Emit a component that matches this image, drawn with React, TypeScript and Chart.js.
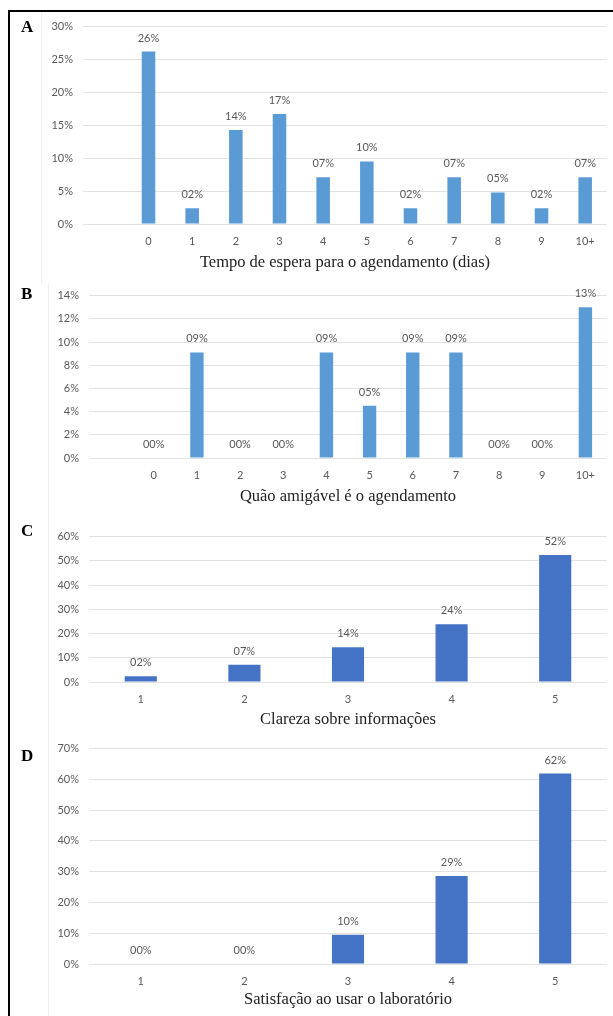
import React, { useEffect, useRef } from "react";
import { Chart, registerables } from "chart.js";

Chart.register(...registerables);

// ---- Data ----
const waitCategories = ["", "0", "1", "2", "3", "4", "5", "6", "7", "8", "9", "10+"];
const waitValues = [null, 26.2, 2.4, 14.3, 16.7, 7.1, 9.5, 2.4, 7.1, 4.8, 2.4, 7.1];

const friendlyCategories = ["", "0", "1", "2", "3", "4", "5", "6", "7", "8", "9", "10+"];
const friendlyValues = [null, 0, 9.1, 0, 0, 9.1, 4.5, 9.1, 9.1, 0, 0, 13.0];

const clarityCategories = ["1", "2", "3", "4", "5"];
const clarityValues = [2.4, 7.1, 14.3, 23.8, 52.4];

const satisfactionCategories = ["1", "2", "3", "4", "5"];
const satisfactionValues = [0, 0, 9.5, 28.6, 61.9];

const waitAxis = { max: 30, step: 5 };
const friendlyAxis = { max: 14, step: 2 };
const clarityAxis = { max: 60, step: 10 };
const satisfactionAxis = { max: 70, step: 10 };

const titles = [
  "Tempo de espera para o agendamento (dias)",
  "Quão amigável é o agendamento",
  "Clareza sobre informações",
  "Satisfação ao usar o laboratório",
];
const letters = ["A", "B", "C", "D"];

// ---- Styling / layout ----
const TICK_COLOR = "#595959";
const GRID_COLOR = "#e2e2e2";
const TICK_FONT = { family: "Lato", size: 11 };

type Box = { L: number; T: number; R: number; B: number; titleY: number; letterTop: number };

const panels = [
  { cats: waitCategories, vals: waitValues, axis: waitAxis, color: "#5B9BD5", box: { L: 83, T: 22, R: 607, B: 224, titleY: 263, letterTop: 18 } },
  { cats: friendlyCategories, vals: friendlyValues, axis: friendlyAxis, color: "#5B9BD5", box: { L: 89, T: 291, R: 607, B: 458, titleY: 497, letterTop: 285 } },
  { cats: clarityCategories, vals: clarityValues, axis: clarityAxis, color: "#4472C4", box: { L: 89, T: 532, R: 607, B: 682, titleY: 720, letterTop: 522 } },
  { cats: satisfactionCategories, vals: satisfactionValues, axis: satisfactionAxis, color: "#4472C4", box: { L: 89, T: 744, R: 607, B: 964, titleY: 1000, letterTop: 747 } },
];

const valueLabelPlugin = {
  id: "valueLabels",
  afterDatasetsDraw(chart: any) {
    const ctx = chart.ctx;
    const meta = chart.getDatasetMeta(0);
    const data = chart.data.datasets[0].data;
    ctx.save();
    ctx.font = "11px Lato";
    ctx.fillStyle = TICK_COLOR;
    ctx.textAlign = "center";
    ctx.textBaseline = "alphabetic";
    meta.data.forEach((el: any, i: number) => {
      const v = data[i];
      if (v === null || v === undefined) return;
      const label = String(Math.round(v)).padStart(2, "0") + "%";
      ctx.fillText(label, el.x, el.y - 10);
    });
    ctx.restore();
  },
};

function Panel({ cats, vals, axis, color, box, title }: any) {
  const ref = useRef<HTMLCanvasElement | null>(null);
  const b: Box = box;
  const canvasLeft = 10;
  const canvasTop = b.T - 12;
  const width = 613 - canvasLeft;
  const height = Math.round(b.titleY + 10 - canvasTop);

  useEffect(() => {
    if (!ref.current) return;
    const chart = new Chart(ref.current, {
      type: "bar",
      data: {
        labels: cats,
        datasets: [
          {
            data: vals,
            backgroundColor: color,
            borderWidth: 0,
            barPercentage: 0.31,
            categoryPercentage: 1,
          },
        ],
      },
      options: {
        responsive: false,
        animation: false,
        layout: { padding: { top: 12, right: 613 - b.R, left: 0, bottom: 0 } },
        plugins: { legend: { display: false }, tooltip: { enabled: false } },
        scales: {
          x: {
            grid: { display: false },
            border: { display: false },
            ticks: { padding: 3, color: TICK_COLOR, font: TICK_FONT, maxRotation: 0, autoSkip: false },
            title: {
              display: true,
              text: title,
              color: "#222222",
              font: { family: "Liberation Serif", size: 16.5 },
              padding: 0,
            },
            afterFit: (s: any) => {
              s.height = canvasTop + height - b.B;
            },
          },
          y: {
            min: 0,
            max: axis.max,
            ticks: {
              stepSize: axis.step,
              padding: 10,
              color: TICK_COLOR,
              font: TICK_FONT,
              callback: (v: any) => v + "%",
            },
            grid: { color: GRID_COLOR, drawTicks: false, lineWidth: 1 },
            border: { display: false },
            afterFit: (s: any) => {
              s.width = b.L - canvasLeft;
            },
          },
        },
      },
      plugins: [valueLabelPlugin],
    });
    return () => chart.destroy();
  }, []);

  return (
    <canvas
      ref={ref}
      width={width}
      height={height}
      style={{ position: "absolute", left: canvasLeft, top: canvasTop, width, height }}
    />
  );
}

export default function App() {
  return (
    <div style={{ position: "absolute", left: 0, top: 0, width: 613, height: 1016, background: "#fff", overflow: "hidden" }}>
      {/* figure frame */}
      <div style={{ position: "absolute", left: 8, top: 10, width: 620, height: 1020, borderLeft: "2px solid #000", borderTop: "2px solid #000" }} />
      {/* faint image edges */}
      <div style={{ position: "absolute", left: 41, top: 12, width: 1, height: 272, background: "#f0f0f0" }} />
      <div style={{ position: "absolute", left: 48, top: 284, width: 1, height: 732, background: "#f0f0f0" }} />
      {panels.map((p, i) => (
        <React.Fragment key={i}>
          <Panel {...p} title={titles[i]} />
          <div
            style={{
              position: "absolute",
              left: 21,
              top: p.box.letterTop,
              fontFamily: "'Liberation Serif', serif",
              fontWeight: "bold",
              fontSize: 17,
              lineHeight: "17px",
              color: "#000",
            }}
          >
            {letters[i]}
          </div>
        </React.Fragment>
      ))}
    </div>
  );
}
